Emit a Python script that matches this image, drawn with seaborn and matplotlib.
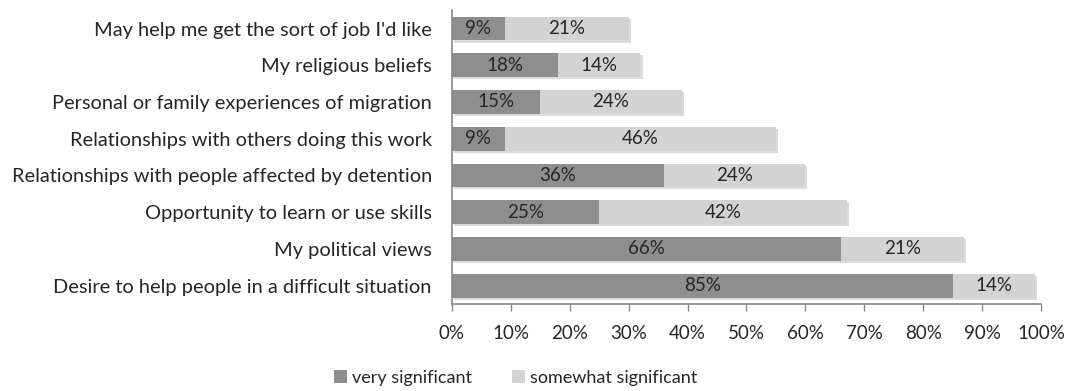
import matplotlib
matplotlib.use("Agg")
import matplotlib.pyplot as plt
import seaborn as sns
import pandas as pd
import numpy as np
from matplotlib.patches import Patch
import matplotlib.patheffects as pe

categories = [
    "May help me get the sort of job I'd like",
    "My religious beliefs",
    "Personal or family experiences of migration",
    "Relationships with others doing this work",
    "Relationships with people affected by detention",
    "Opportunity to learn or use skills",
    "My political views",
    "Desire to help people in a difficult situation",
]
very_significant = [9, 18, 15, 9, 36, 25, 66, 85]
somewhat_significant = [21, 14, 24, 46, 24, 42, 21, 14]
series_names = ["very significant", "somewhat significant"]
tick_labels = ["0%", "10%", "20%", "30%", "40%", "50%", "60%", "70%", "80%", "90%", "100%"]

sns.set_theme(style="white")
plt.rcParams['font.family'] = ['Lato', 'DejaVu Sans']

df = pd.DataFrame({
    "category": categories,
    "very": very_significant,
    "somewhat": somewhat_significant,
})
df["total"] = df["very"] + df["somewhat"]

dark = "#8e8e8e"
light = "#d3d3d3"
txt = "#262626"

fig = plt.figure(figsize=(10.72, 3.91), dpi=100)
ax = fig.add_axes([0.4216, 0.2225, 0.5494, 0.7515])

shadow = [pe.SimplePatchShadow(offset=(1.5, -1.5), shadow_rgbFace="#c4c4c4", alpha=0.6), pe.Normal()]
sns.barplot(data=df, y="category", x="total", color=light, width=0.65,
            orient="h", ax=ax, saturation=1, edgecolor="none")
for p in ax.patches:
    p.set_path_effects(shadow)
sns.barplot(data=df, y="category", x="very", color=dark, width=0.65,
            orient="h", ax=ax, saturation=1, edgecolor="none")

for i, (v, s) in enumerate(zip(very_significant, somewhat_significant)):
    ax.text(v / 2, i, f"{v}%", ha="center", va="center", fontsize=13.5, color=txt)
    ax.text(v + s / 2, i, f"{s}%", ha="center", va="center", fontsize=13.5, color=txt)

ax.set_xlim(0, 100)
ax.set_ylim(7.5, -0.5)
ax.set_xticks(np.arange(0, 101, 10))
ax.set_xticklabels(tick_labels, fontsize=13.5, color=txt)
ax.tick_params(axis="x", which="major", length=5, width=1, color="#888888", direction="out", pad=10, bottom=True)
ax.tick_params(axis="y", length=0, labelsize=14.4, labelcolor=txt, pad=14.5)
ax.set_xlabel("")
ax.set_ylabel("")
for side in ["top", "right"]:
    ax.spines[side].set_visible(False)
ax.spines["left"].set_color("#888888")
ax.spines["bottom"].set_color("#888888")
ax.spines["left"].set_linewidth(1.2)
ax.spines["bottom"].set_linewidth(1.2)

handles = [Patch(facecolor=dark, edgecolor="none"), Patch(facecolor=light, edgecolor="none")]
fig.legend(handles, series_names, loc="center", bbox_to_anchor=(0.481, 0.033), ncol=2,
           frameon=False, fontsize=13, handlelength=0.7, handleheight=0.7,
           handletextpad=0.3, columnspacing=2.2, labelcolor=txt)

fig.savefig("out.png", dpi=100)
